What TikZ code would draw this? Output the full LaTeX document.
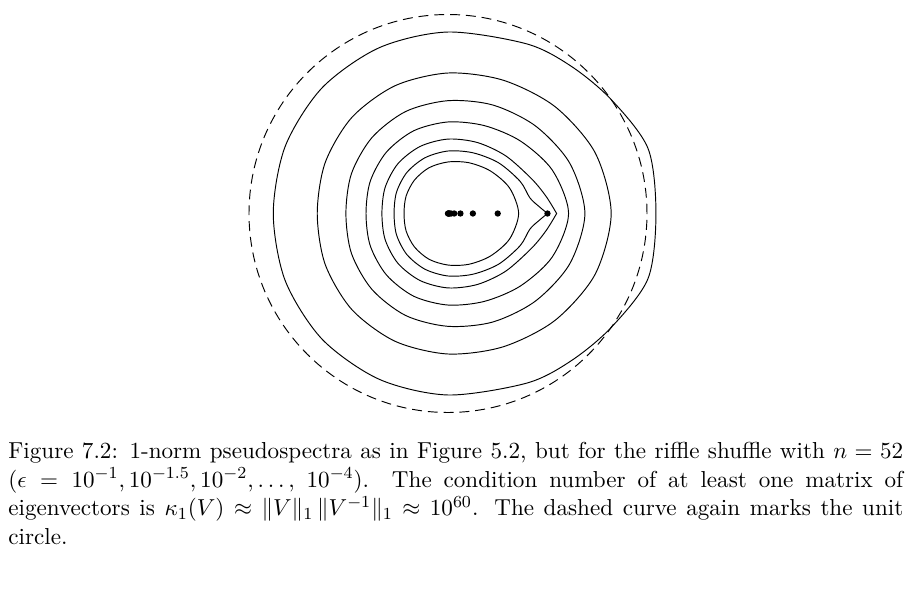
\documentclass[tikz,border=0pt]{standalone}
\usepackage{amsmath, amssymb}
\usepackage{tikz}
\tikzstyle{levelcurve}=[line width=0.45pt]
\tikzstyle{unitcircle}=[line width=0.45pt, dash pattern=on 4.7pt off 2.8pt]
\tikzstyle{eigdot}=[fill=black]

\begin{document}
\begin{tikzpicture}[x=94.33pt,y=94.33pt]
		\useasboundingbox (-2.2513,-1.9874) rectangle (2.3317,1.0729);
		\draw[unitcircle] (0,0) circle (1);
		% level curves, eps = 10^-1 (outside) to 10^-4 (inside)
		\draw[levelcurve] plot[smooth cycle] coordinates {(0:1.045) (18:1.057) (35:1) (50:0.965) (65:0.94) (90:0.912) (112.5:0.902) (135:0.894) (157.5:0.885) (180:0.878) (-157.5:0.885) (-135:0.894) (-112.5:0.902) (-90:0.912) (-65:0.94) (-50:0.965) (-35:1) (-18:1.057)};
		\draw[levelcurve] plot[smooth cycle] coordinates {(0:0.82) (22.5:0.80) (45:0.76) (67.5:0.725) (90:0.706) (112.5:0.695) (135:0.683) (157.5:0.668) (180:0.657) (-157.5:0.668) (-135:0.683) (-112.5:0.695) (-90:0.706) (-67.5:0.725) (-45:0.76) (-22.5:0.80)};
		\draw[levelcurve] plot[smooth cycle] coordinates {(0:0.688) (22.5:0.662) (45:0.622) (67.5:0.59) (90:0.567) (112.5:0.555) (135:0.54) (157.5:0.525) (180:0.513) (-157.5:0.525) (-135:0.54) (-112.5:0.555) (-90:0.567) (-67.5:0.59) (-45:0.622) (-22.5:0.662)};
		\draw[levelcurve] plot[smooth cycle] coordinates {(0:0.606) (22.5:0.568) (45:0.515) (67.5:0.478) (90:0.46) (112.5:0.45) (135:0.437) (157.5:0.423) (180:0.412) (-157.5:0.423) (-135:0.437) (-112.5:0.45) (-90:0.46) (-67.5:0.478) (-45:0.515) (-22.5:0.568)};
		\draw[levelcurve] plot[smooth] coordinates {(0:0.546) (10:0.50) (22.5:0.455) (45:0.41) (67.5:0.386) (90:0.374) (112.5:0.365) (135:0.355) (157.5:0.342) (180:0.332) (-157.5:0.342) (-135:0.355) (-112.5:0.365) (-90:0.374) (-67.5:0.386) (-45:0.41) (-22.5:0.455) (-10:0.50) (0:0.546)};
		\draw[levelcurve] plot[smooth] coordinates {(0.5,0) (0.46,0.033) (0.412,0.078) (24:0.397) (45:0.36) (67.5:0.33) (90:0.314) (112.5:0.303) (135:0.292) (157.5:0.28) (180:0.271) (-157.5:0.28) (-135:0.292) (-112.5:0.303) (-90:0.314) (-67.5:0.33) (-45:0.36) (-24:0.397) (0.412,-0.078) (0.46,-0.033) (0.5,0)};
		\draw[levelcurve] plot[smooth cycle] coordinates {(0:0.355) (22.5:0.335) (45:0.302) (67.5:0.276) (90:0.259) (112.5:0.249) (135:0.238) (157.5:0.228) (180:0.221) (-157.5:0.228) (-135:0.238) (-112.5:0.249) (-90:0.259) (-67.5:0.276) (-45:0.302) (-22.5:0.335)};
		% eigenvalues 0, 1/2, 1/4, ...
		\fill[eigdot] (0,0) circle (1.5pt);
		\foreach \k in {1,...,9}
			\fill[eigdot] ({2^(-\k)},0) circle (1.5pt);
		\node[anchor=base west, text width=424.2pt, align=justify, inner sep=0pt, font=\fontsize{10.95}{13.56}\selectfont] (caption) at (-2.2111,-1.2322) {Figure 7.2: 1-norm pseudospectra as in Figure 5.2, but for the riffle shuffle with $n = 52$\linebreak ($\epsilon = 10^{-1}, 10^{-1.5}, 10^{-2}, \ldots,$ $10^{-4}$). The condition number of at least one matrix of\linebreak eigenvectors is $\kappa_1(V) \approx \|V\|_1 \, \|V^{-1}\|_1 \approx 10^{60}$. The dashed curve again marks the unit\linebreak circle.};
	\end{tikzpicture}
\end{document}
